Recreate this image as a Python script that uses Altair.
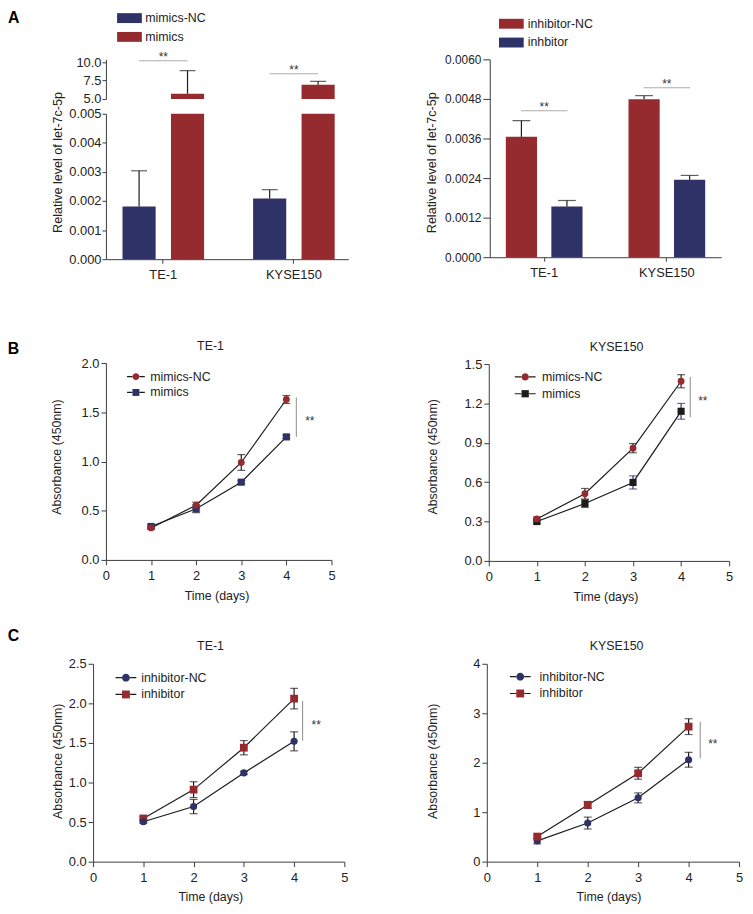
import altair as alt
import pandas as pd

FONT = "Liberation Sans"
NAVY = "#2f3266"
RED = "#962b2f"
DARK = "#1c1c1c"
AXC = "#3c3c3c"
SIGC = "#8c8c8c"
TXT = "#222222"

W, H = 745, 906

# ---------------- Panel A data ----------------
cells = ["TE-1", "KYSE150"]

a1_groups = ["mimics-NC", "mimics"]
a1_nc_mean = [0.00181, 0.00209]
a1_nc_err = [0.00123, 0.00030]
a1_mim_mean = [5.70, 6.95]
a1_mim_err = [3.16, 0.45]
a1_sig = [10.22, 8.45]
a1_lower_ticks = [0, 0.001, 0.002, 0.003, 0.004, 0.005]
a1_upper_ticks = [5.0, 7.5, 10.0]
BREAK_LO, BREAK_HI = 0.005, 5.0

a2_groups = ["inhibitor-NC", "inhbitor"]
a2_nc_mean = [0.00365, 0.00479]
a2_nc_err = [0.00049, 0.00011]
a2_inh_mean = [0.00154, 0.00235]
a2_inh_err = [0.00018, 0.00013]
a2_sig = [0.00444, 0.00514]
a2_ticks = [0, 0.0012, 0.0024, 0.0036, 0.0048, 0.0060]

# ---------------- Panels B / C data ----------------
days = [1, 2, 3, 4]
time_ticks = [0, 1, 2, 3, 4, 5]

b1_series = ["mimics-NC", "mimics"]
b1_nc = [0.325, 0.556, 0.99, 1.63]
b1_nc_err = [0.01, 0.03, 0.08, 0.04]
b1_mim = [0.34, 0.52, 0.79, 1.25]
b1_mim_err = [0.015, 0.04, 0.015, 0.015]
b1_sig = [4.22, 1.25, 1.65]
b1_ticks = [0, 0.5, 1.0, 1.5, 2.0]

b2_series = ["mimics-NC", "mimics"]
b2_nc = [0.32, 0.512, 0.859, 1.369]
b2_nc_err = [0.015, 0.04, 0.035, 0.05]
b2_mim = [0.30, 0.437, 0.598, 1.14]
b2_mim_err = [0.015, 0.03, 0.05, 0.06]
b2_sig = [4.19, 1.095, 1.402]
b2_ticks = [0, 0.3, 0.6, 0.9, 1.2, 1.5]

c1_series = ["inhibitor-NC", "inhibitor"]
c1_nc = [0.504, 0.696, 1.121, 1.52]
c1_nc_err = [0.02, 0.09, 0.02, 0.12]
c1_inh = [0.546, 0.91, 1.44, 2.06]
c1_inh_err = [0.02, 0.10, 0.09, 0.13]
c1_sig = [4.17, 1.53, 2.03]
c1_ticks = [0, 0.5, 1.0, 1.5, 2.0, 2.5]

c2_series = ["inhibitor-NC", "inhibitor"]
c2_nc = [0.42, 0.78, 1.29, 2.06]
c2_nc_err = [0.06, 0.12, 0.10, 0.15]
c2_inh = [0.507, 1.147, 1.787, 2.73]
c2_inh_err = [0.03, 0.07, 0.12, 0.16]
c2_sig = [4.23, 2.09, 2.83]
c2_ticks = [0, 1, 2, 3, 4]


def axis(**kw):
    base = dict(grid=False, domainColor=AXC, tickColor=AXC, labelColor=TXT, titleColor=TXT,
                labelFont=FONT, titleFont=FONT, titleFontWeight="normal", domainWidth=1,
                tickWidth=1, labelFlush=False, labelOverlap=False)
    base.update(kw)
    return alt.Axis(**base)


def rect_path(h):
    return f"M-1,{-h}L1,{-h}L1,{h}L-1,{h}Z"


def circle_path(r):
    return f"M{r},0A{r},{r},0,1,1,{-r},0A{r},{r},0,1,1,{r},0Z"


def square_path(h):
    return f"M{-h},{-h}L{h},{-h}L{h},{h}L{-h},{h}Z"


def stub_path(r, t):
    # two short line pieces left and right of the marker (legend only)
    return (f"M-1,{-t}L{-r},{-t}L{-r},{t}L-1,{t}Z"
            f"M{r},{-t}L1,{-t}L1,{t}L{r},{t}Z")


def bar_df(groups, means, errs):
    rows = []
    for g, m, e in zip(groups, means, errs):
        for c, mv, ev in zip(cells, m, e):
            rows.append({"cell": c, "group": g, "mean": mv, "hi": mv + ev, "base": 0.0})
    return pd.DataFrame(rows)


# =============== Panel A left (broken axis) ===============
a1 = bar_df(a1_groups, [a1_nc_mean, a1_mim_mean], [a1_nc_err, a1_mim_err])
a1_sig_df = pd.DataFrame({"cell": cells, "y": a1_sig})

xs1 = alt.Scale(domain=cells, range=[99, 344], paddingInner=0.2424, paddingOuter=0.0492, align=0.615)
xo1 = alt.Scale(domain=a1_groups, paddingInner=0.316, paddingOuter=0.179)
xa1 = axis(orient="bottom", offset=249 - H, title=None, labelFontSize=13, tickSize=4,
           labelPadding=6, labelAngle=0)
col1 = alt.Scale(domain=a1_groups, range=[NAVY, RED])
leg1 = alt.Legend(orient="none", legendX=110.3, legendY=-7.2, title=None,
                  symbolType=rect_path(0.4), symbolSize=625, rowPadding=-7, labelOffset=3.4,
                  padding=0, labelFontSize=12.5, labelFont=FONT, labelColor=TXT,
                  symbolStrokeWidth=0)
ys1u = alt.Scale(domain=[5, 10.4], range=[87, 47], clamp=True, nice=False, zero=False)
ya1u = axis(orient="left", offset=-99, values=a1_upper_ticks, format=".1f", tickSize=4,
            labelPadding=1, labelFontSize=13, title="A", titleAngle=0, titleX=-93.7,
            titleY=4.8, titleFontSize=16, titleFontWeight="bold", titleColor="black",
            titleBaseline="middle", titleAlign="center")
ys1l = alt.Scale(domain=[0, 0.005], range=[249, 102], clamp=True, nice=False, zero=False)
ya1l = axis(orient="left", offset=-99, values=a1_lower_ticks, format=".3f", tickSize=4,
            labelPadding=1, labelFontSize=13, title="Relative level of let-7c-5p",
            titleAngle=270, titleX=-49, titleY=150.7, titleBaseline="middle",
            titleAlign="center", titleFontSize=12.7)

X1 = alt.X("cell:N", scale=xs1, axis=xa1)
XO1 = alt.XOffset("group:N", scale=xo1)
C1 = alt.Color("group:N", scale=col1, legend=leg1)

up = alt.Chart(a1).transform_filter(alt.datum.mean > BREAK_HI)
upper = alt.layer(
    up.mark_bar().encode(x=X1, xOffset=XO1, y=alt.Y("mean:Q", scale=ys1u, axis=ya1u),
                         y2="base:Q", color=C1),
    up.mark_rule(color=DARK, strokeWidth=1.2).encode(
        x=X1, xOffset=XO1, y=alt.Y("mean:Q", scale=ys1u, axis=ya1u), y2="hi:Q"),
    up.mark_tick(orient="horizontal", size=16, thickness=1.2, color=DARK).encode(
        x=X1, xOffset=XO1, y=alt.Y("hi:Q", scale=ys1u, axis=ya1u)),
    alt.Chart(a1_sig_df).mark_tick(orient="horizontal", size=49, thickness=1, color=SIGC).encode(
        x=X1, y=alt.Y("y:Q", scale=ys1u, axis=ya1u)),
    alt.Chart(a1_sig_df).mark_text(text="**", fontSize=12, font=FONT, color="#333",
                                   baseline="alphabetic", dy=0).encode(
        x=X1, y=alt.Y("y:Q", scale=ys1u, axis=ya1u)),
)
lo = alt.Chart(a1)
lo_err = lo.transform_filter(alt.datum.hi < BREAK_LO)
lower = alt.layer(
    lo.mark_bar().encode(x=X1, xOffset=XO1, y=alt.Y("mean:Q", scale=ys1l, axis=ya1l),
                         y2="base:Q", color=C1),
    lo_err.mark_rule(color=DARK, strokeWidth=1.2).encode(
        x=X1, xOffset=XO1, y=alt.Y("mean:Q", scale=ys1l, axis=ya1l), y2="hi:Q"),
    lo_err.mark_tick(orient="horizontal", size=16, thickness=1.2, color=DARK).encode(
        x=X1, xOffset=XO1, y=alt.Y("hi:Q", scale=ys1l, axis=ya1l)),
)
panel_a1 = alt.layer(upper, lower).resolve_scale(y="independent")

# =============== Panel A right ===============
a2 = bar_df(a2_groups, [a2_nc_mean, a2_inh_mean], [a2_nc_err, a2_inh_err])
a2_sig_df = pd.DataFrame({"cell": cells, "y": a2_sig})
xs2 = alt.Scale(domain=cells, range=[487, 721], paddingInner=0.2419, paddingOuter=0.0645)
xo2 = alt.Scale(domain=a2_groups, paddingInner=0.315, paddingOuter=0.179)
xa2 = axis(orient="bottom", offset=247 - H, title=None, labelFontSize=13, tickSize=4,
           labelPadding=6, labelAngle=0)
ys2 = alt.Scale(domain=[0, 0.006], range=[247, 47], nice=False, zero=False)
ya2 = axis(orient="left", offset=-487, values=a2_ticks, format=".4f", tickSize=7,
           labelPadding=2, labelFontSize=12, title="Relative level of let-7c-5p",
           titleAngle=270, titleX=-59, titleY=151, titleBaseline="middle",
           titleAlign="center", titleFontSize=12.7)
col2 = alt.Scale(domain=a2_groups, range=[RED, NAVY])
leg2 = alt.Legend(orient="none", legendX=496.3, legendY=-1.5, title=None,
                  symbolType=rect_path(0.4), symbolSize=625, rowPadding=-8, labelOffset=4,
                  padding=0, labelFontSize=12.5, labelFont=FONT, labelColor=TXT,
                  symbolStrokeWidth=0)
X2 = alt.X("cell:N", scale=xs2, axis=xa2)
XO2 = alt.XOffset("group:N", scale=xo2)
Y2 = lambda f: alt.Y(f, type="quantitative", scale=ys2, axis=ya2)
b2c = alt.Chart(a2)
panel_a2 = alt.layer(
    b2c.mark_bar().encode(x=X2, xOffset=XO2, y=Y2("mean"), y2="base:Q",
                          color=alt.Color("group:N", scale=col2, legend=leg2)),
    b2c.mark_rule(color=DARK, strokeWidth=1.2).encode(x=X2, xOffset=XO2, y=Y2("mean"), y2="hi:Q"),
    b2c.mark_tick(orient="horizontal", size=18, thickness=1.2, color=DARK).encode(
        x=X2, xOffset=XO2, y=Y2("hi")),
    alt.Chart(a2_sig_df).mark_tick(orient="horizontal", size=47, thickness=1, color=SIGC).encode(
        x=X2, y=Y2("y")),
    alt.Chart(a2_sig_df).mark_text(text="**", fontSize=12, font=FONT, color="#333",
                                   baseline="alphabetic", dy=0).encode(x=X2, y=Y2("y")),
)


# =============== Line panels ===============
def line_df(series, means, errs):
    rows = []
    for s, m, e in zip(series, means, errs):
        for d, mv, ev in zip(days, m, e):
            rows.append({"series": s, "day": d, "mean": mv, "lo": mv - ev, "hi": mv + ev})
    return pd.DataFrame(rows)


def line_panel(series, means, errs, sig, yticks, cfg):
    df = line_df(series, means, errs)
    xr, yr = cfg["xr"], cfg["yr"]
    xs = alt.Scale(domain=[0, 5], range=xr, nice=False, zero=False)
    ys = alt.Scale(domain=[yticks[0], yticks[-1]], range=yr, nice=False, zero=False)
    xa = axis(orient="bottom", offset=yr[0] - H, values=time_ticks, format="d", tickSize=5,
              labelPadding=5, labelFontSize=13, title="Time (days)", titleFontSize=12.5,
              titleX=cfg["xtx"], titleY=cfg["xty"], titleBaseline="middle", titleAlign="center")
    ya = axis(orient="left", offset=-xr[0], values=yticks, format=cfg["fmt"], tickSize=5,
              labelPadding=2, labelFontSize=13, title="Absorbance (450nm)", titleFontSize=12.5,
              titleAngle=270, titleX=cfg["ytx"], titleY=cfg["yty"], titleBaseline="middle",
              titleAlign="center")
    X = lambda f: alt.X(f, type="quantitative", scale=xs, axis=xa)
    Y = lambda f: alt.Y(f, type="quantitative", scale=ys, axis=ya)
    base = alt.Chart(df)
    layers = [base.mark_line(color=DARK, strokeWidth=1.2).encode(x=X("day"), y=Y("mean"),
                                                                  detail="series:N")]
    for i in cfg["order"]:
        s = series[i]
        sd = base.transform_filter(alt.datum.series == s)
        ec = cfg["errc"][i]
        layers.append(sd.mark_rule(color=ec, strokeWidth=1.2).encode(x=X("day"), y=Y("lo"), y2="hi:Q"))
        layers.append(sd.mark_tick(orient="horizontal", size=8, thickness=1.2, color=ec).encode(
            x=X("day"), y=Y("hi")))
        layers.append(sd.mark_tick(orient="horizontal", size=8, thickness=1.2, color=ec).encode(
            x=X("day"), y=Y("lo")))
    for i in cfg["order"]:
        s = series[i]
        sd = base.transform_filter(alt.datum.series == s)
        layers.append(sd.mark_point(filled=True, opacity=1, shape=cfg["shapes"][i],
                                    size=cfg["sizes"][i], color=cfg["colors"][i]).encode(
            x=X("day"), y=Y("mean")))
    sig_df = pd.DataFrame([{"x": sig[0], "lo": sig[1], "hi": sig[2]}])
    layers.append(alt.Chart(sig_df).mark_rule(color=SIGC, strokeWidth=1).encode(
        x=X("x"), y=Y("lo"), y2="hi:Q"))
    layers.append(alt.Chart(sig_df).transform_calculate(mid="(datum.lo + datum.hi) / 2")
                  .mark_text(text="**", align="left", dx=cfg["sdx"], dy=4, fontSize=12, font=FONT,
                             color="#333", baseline="middle")
                  .encode(x=X("x"), y=Y("mid")))
    main = alt.layer(*layers)

    # guide layer: panel title, panel letter and legend (markers)
    gx = alt.Scale(domain=[0, 5], range=xr, nice=False, zero=False)
    gy = alt.Scale(domain=[yticks[0], yticks[-1]], range=yr, nice=False, zero=False)
    gxa = alt.Axis(orient="top", offset=-yr[1], domain=False, ticks=False, labels=False,
                   grid=False, title=cfg["title"], titleX=cfg["ttx"], titleY=cfg["tty"],
                   titleFontSize=12.5, titleFont=FONT, titleFontWeight="normal",
                   titleColor=TXT, titleBaseline="middle", titleAlign="center")
    if cfg.get("letter"):
        gya = alt.Axis(orient="left", offset=-xr[0], domain=False, ticks=False, labels=False,
                       grid=False, title=cfg["letter"], titleAngle=0, titleX=cfg["ltx"],
                       titleY=cfg["lty"], titleFontSize=16, titleFont=FONT,
                       titleFontWeight="bold", titleColor="black", titleBaseline="middle",
                       titleAlign="center")
    else:
        gya = None
    r = cfg["mr"]
    half = (cfg["ls"] ** 0.5) / 2
    t = 0.6 / half
    leg_kw = dict(orient="none", legendX=cfg["lx"], legendY=cfg["ly"], title=None,
                  symbolSize=cfg["ls"], rowPadding=cfg["rp"], labelOffset=cfg["lo"],
                  padding=0, labelFontSize=12.5, labelFont=FONT,
                  symbolStrokeWidth=0, symbolOpacity=1)
    leg = alt.Legend(labelColor=TXT, **leg_kw)
    leg_stub = alt.Legend(labelColor="transparent", **leg_kw)
    paths = [circle_path(r) if sh == "circle" else square_path(r) for sh in cfg["shapes"]]
    guide = alt.Chart(df).transform_filter("false").mark_point(filled=True, opacity=1).encode(
        x=alt.X("day:Q", scale=gx, axis=gxa),
        y=alt.Y("mean:Q", scale=gy, axis=gya),
        color=alt.Color("series:N", scale=alt.Scale(domain=series, range=cfg["colors"]), legend=leg),
        shape=alt.Shape("series:N", scale=alt.Scale(domain=series, range=paths), legend=leg),
    )
    stub = stub_path(r, t)
    guide_lines = alt.Chart(df).transform_filter("false").mark_point(
        filled=True, opacity=1, color=DARK).encode(
        shape=alt.Shape("series:N", scale=alt.Scale(domain=series, range=[stub, stub]),
                        legend=leg_stub),
    )
    return alt.layer(main, guide, guide_lines).resolve_scale(
        x="independent", y="independent", color="independent", shape="independent")


panel_b1 = line_panel(
    b1_series, [b1_nc, b1_mim], [b1_nc_err, b1_mim_err], b1_sig, b1_ticks,
    dict(xr=[99, 327], yr=[553, 354], fmt=".1f", ytx=-49.5, yty=448.5, xtx=210.8, xty=36.5,
         title="TE-1", ttx=204.2, tty=-17.7, letter="B", ltx=-94, lty=339.5,
         lx=120.3, ly=358.7, ls=324, rp=-2, lo=5.4, mr=0.39,
         shapes=["circle", "square"], colors=[RED, NAVY], sizes=[48, 52], errc=[DARK, DARK],
         order=[1, 0], sdx=9))
panel_b2 = line_panel(
    b2_series, [b2_nc, b2_mim], [b2_nc_err, b2_mim_err], b2_sig, b2_ticks,
    dict(xr=[486, 729], yr=[554, 355], fmt=".1f", ytx=-56.7, yty=448.3, xtx=604, xty=36.5,
         title="KYSE150", ttx=614.7, tty=-18,
         lx=512.3, ly=357.5, ls=441, rp=-3.7, lo=6.4, mr=0.35,
         shapes=["circle", "square"], colors=[RED, DARK], sizes=[48, 52], errc=[DARK, NAVY],
         order=[1, 0], sdx=8))
panel_c1 = line_panel(
    c1_series, [c1_nc, c1_inh], [c1_nc_err, c1_inh_err], c1_sig, c1_ticks,
    dict(xr=[86, 340], yr=[858, 658], fmt=".1f", ytx=-35.7, yty=756, xtx=204.5, xty=35,
         title="TE-1", ttx=204.2, tty=-18, letter="C", ltx=-81, lty=629.5,
         lx=108.7, ly=661.5, ls=441, rp=-3.7, lo=5, mr=0.38,
         shapes=["circle", "square"], colors=[NAVY, RED], sizes=[52, 62], errc=[DARK, DARK],
         order=[1, 0], sdx=9))
panel_c2 = line_panel(
    c2_series, [c2_nc, c2_inh], [c2_nc_err, c2_inh_err], c2_sig, c2_ticks,
    dict(xr=[484, 739], yr=[858, 658], fmt="d", ytx=-54.7, yty=756, xtx=607, xty=35,
         title="KYSE150", ttx=614.7, tty=-18,
         lx=507.3, ly=660.5, ls=441, rp=-2.7, lo=9, mr=0.38,
         shapes=["circle", "square"], colors=[NAVY, RED], sizes=[52, 62], errc=[DARK, DARK],
         order=[0, 1], sdx=8))

chart = (
    alt.layer(panel_a1, panel_a2, panel_b1, panel_b2, panel_c1, panel_c2)
    .resolve_scale(x="independent", y="independent", color="independent",
                   shape="independent", xOffset="independent")
    .properties(width=W, height=H, autosize="none", padding=0)
    .configure_view(stroke=None)
    .configure_axis(grid=False, labelFont=FONT, titleFont=FONT)
    .configure_legend(labelFont=FONT)
    .configure_text(font=FONT)
)

chart.save("out.html", embed_options={"renderer": "svg", "actions": False})
